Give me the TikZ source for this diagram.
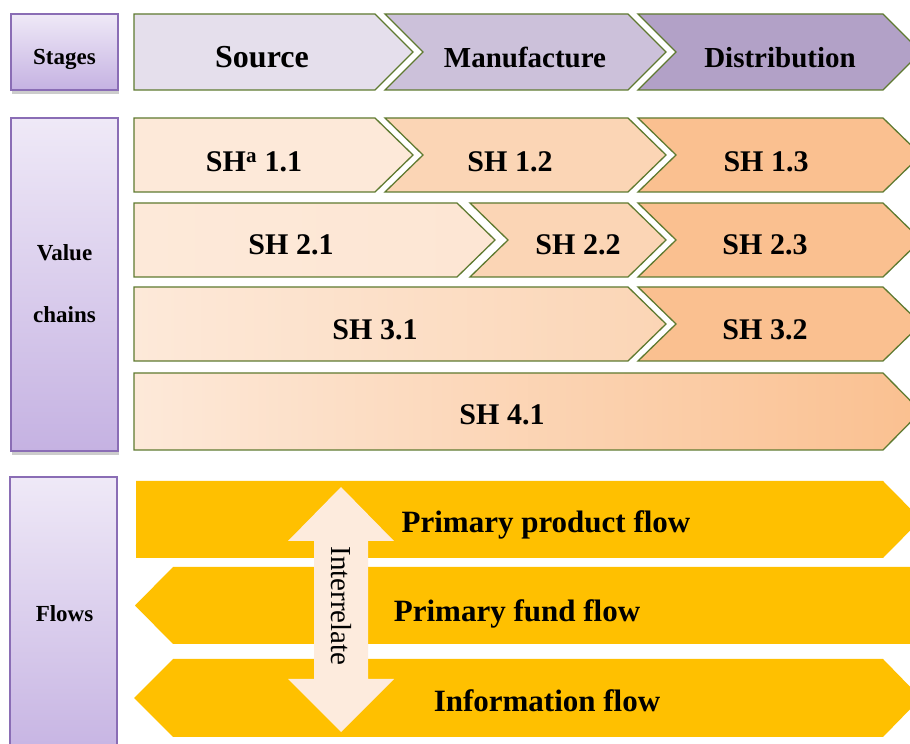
\documentclass[tikz,border=0pt]{standalone}
\usepackage{fontspec}
\setmainfont{Liberation Serif}
\usetikzlibrary{shadows}
\definecolor{frame}{HTML}{5F7A30}
\definecolor{boxedge}{HTML}{8A6DB5}
\definecolor{lavtop}{HTML}{EFE9F7}
\definecolor{lavbot}{HTML}{C5B2E2}
\definecolor{stA}{HTML}{E5DFEC}
\definecolor{stB}{HTML}{CCC1DA}
\definecolor{stC}{HTML}{B2A1C7}
\definecolor{pkA}{HTML}{FDE9D9}
\definecolor{pkB}{HTML}{FBD5B5}
\definecolor{pkC}{HTML}{FAC090}
\definecolor{flowy}{HTML}{FFC000}
\definecolor{arrowpk}{HTML}{FDEBDD}
\tikzset{
  labelbox/.style={draw=boxedge, line width=1.5pt, top color=lavtop, bottom color=lavbot,
    drop shadow={shadow xshift=1pt, shadow yshift=-4pt, opacity=0.4}},
  chev/.style={draw=frame, line width=1.3pt, line join=miter},
  lbl/.style={font=\bfseries\fontsize{23}{27}\selectfont, inner sep=0pt, anchor=base},
  stg/.style={font=\bfseries\fontsize{29}{33}\selectfont, inner sep=0pt, anchor=base},
  shl/.style={font=\bfseries\fontsize{30}{34}\selectfont, inner sep=0pt, anchor=base},
  flw/.style={font=\bfseries\fontsize{31}{35}\selectfont, inner sep=0pt, anchor=base},
  flowbar/.style={fill=flowy},
}
% #1 style, #2 left x, #3 body right x, #4 top y, #5 bottom y, #6 notch (0/1)
\newcommand\Chev[6]{%
  \path[#1] (#2,#4) -- (#3,#4) -- ({#3+38},{(#4+#5)/2}) -- (#3,#5) -- (#2,#5)
    -- ({#2+#6*38},{(#4+#5)/2}) -- cycle;}
\begin{document}
\begin{tikzpicture}[x=1pt,y=1pt]
\clip (0,0) rectangle (910,744);
\fill[white] (0,0) rectangle (910,744);

% left label boxes
\path[labelbox] (11,654) rectangle (118,730);
\path[labelbox] (11,293) rectangle (118,626);
\path[labelbox] (10,-20) rectangle (117,267);
\node[lbl] (stages) at (64.5,679) {Stages};
\node[lbl] (value) at (64.5,483) {Value};
\node[lbl] (chains) at (64.5,421) {chains};
\node[lbl] (flows) at (64.5,122) {Flows};

% stages row
\Chev{chev,fill=stA}{134}{375}{730}{654}{0}
\Chev{chev,fill=stB}{385}{628}{730}{654}{1}
\Chev{chev,fill=stC}{638}{883}{730}{654}{1}
\node[stg, font=\bfseries\fontsize{32}{36}\selectfont] (source) at (262,676.5) {Source};
\node[stg] (manuf) at (525,676.5) {Manufacture};
\node[stg] (distr) at (780,676.5) {Distribution};

% value chains
\Chev{chev,fill=pkA}{134}{375}{626}{552}{0}
\Chev{chev,fill=pkB}{385}{628}{626}{552}{1}
\Chev{chev,fill=pkC}{638}{883}{626}{552}{1}
\Chev{chev,left color=pkA,right color=pkA!85!pkB}{134}{457}{541}{467}{0}
\Chev{chev,fill=pkB}{470}{628}{541}{467}{1}
\Chev{chev,fill=pkC}{638}{883}{541}{467}{1}
\Chev{chev,left color=pkA,right color=pkB}{134}{628}{457}{383}{0}
\Chev{chev,fill=pkC}{638}{883}{457}{383}{1}
\Chev{chev,left color=pkA,right color=pkC}{134}{883}{371}{294}{0}
\node[shl] (sh11) at (254,572) {SH\textsuperscript{a} 1.1};
\node[shl] (sh12) at (510,572) {SH 1.2};
\node[shl] (sh13) at (766,572) {SH 1.3};
\node[shl] (sh21) at (291,489) {SH 2.1};
\node[shl] (sh22) at (578,489) {SH 2.2};
\node[shl] (sh23) at (765,489) {SH 2.3};
\node[shl] (sh31) at (375,404) {SH 3.1};
\node[shl] (sh32) at (765,404) {SH 3.2};
\node[shl] (sh41) at (502,319) {SH 4.1};

% flows
\path[flowbar] (136,186) -- (883,186) -- (921,224.5) -- (883,263) -- (136,263) -- cycle;
\path[flowbar] (135,138.5) -- (173,177) -- (925,177) -- (925,100) -- (173,100) -- cycle;
\path[flowbar] (134,46) -- (173,85) -- (883,85) -- (921,46) -- (883,7) -- (173,7) -- cycle;
\node[flw] (pprod) at (546,211) {Primary product flow};
\node[flw] (pfund) at (517,122) {Primary fund flow};
\node[flw] (info) at (547,32) {Information flow};

% interrelate double arrow
\path[fill=arrowpk] (341,257) -- (394,203) -- (368,203) -- (368,65) -- (394,65)
  -- (341,12) -- (288,65) -- (314,65) -- (314,203) -- (288,203) -- cycle;
\node[font=\fontsize{29}{33}\selectfont, rotate=-90, inner sep=0pt] (inter) at (341,138) {Interrelate};
\end{tikzpicture}
\end{document}
